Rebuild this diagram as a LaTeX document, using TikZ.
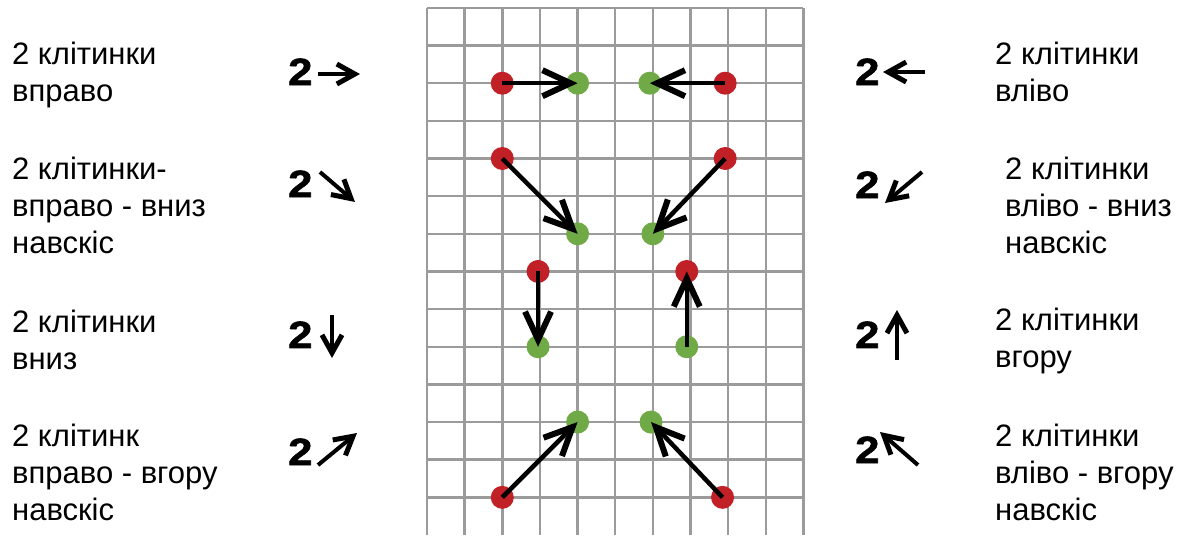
\documentclass[tikz,border=0pt]{standalone}
\usepackage{fontspec}
\setmainfont{Liberation Sans}
\newfontfamily\numfont{Liberation Sans}[BoldFeatures={FakeBold=1.5,FakeStretch=1.15}]
\usetikzlibrary{arrows.meta}

\definecolor{dotred}{RGB}{192,32,38}
\definecolor{dotgreen}{RGB}{112,170,70}
\definecolor{gridgray}{RGB}{155,155,155}

\begin{document}
\begin{tikzpicture}[x=37.65pt, y=37.65pt,
  gridline/.style={gridgray, line width=2.5pt},
  startdot/.style={circle, fill=dotred, minimum size=23pt, inner sep=0pt},
  enddot/.style={circle, fill=dotgreen, minimum size=23pt, inner sep=0pt},
  move/.style={line width=4.5pt, -{Straight Barb[length=28pt,width=26pt,line width=6pt]}},
  hint/.style={line width=4pt, -{Straight Barb[length=18pt,width=20pt,line width=5pt]}},
  desc/.style={anchor=base west, inner sep=0pt, align=left, font=\fontsize{31}{37}\selectfont},
  num/.style={anchor=base west, inner sep=0pt, font=\numfont\bfseries\fontsize{38}{38}\selectfont}]

\useasboundingbox (-11.341,0) rectangle (20.133,14.210);

% grid
\foreach \c in {0,...,10} \draw[gridline] (\c,0) -- (\c,14);
\foreach \r in {1,...,14} \draw[gridline] (0,\r) -- (10,\r);

% dots
\node[startdot] (rRight)     at (2,12)    {};
\node[enddot]   (gRight)     at (4,12)    {};
\node[startdot] (rLeft)      at (7.92,12) {};
\node[enddot]   (gLeft)      at (5.92,12) {};
\node[startdot] (rDownRight) at (2,10)    {};
\node[enddot]   (gDownRight) at (4,8)     {};
\node[startdot] (rDownLeft)  at (7.92,10) {};
\node[enddot]   (gDownLeft)  at (6,8)     {};
\node[startdot] (rDown)      at (2.95,7)  {};
\node[enddot]   (gDown)      at (2.95,5)  {};
\node[startdot] (rUp)        at (6.9,7)   {};
\node[enddot]   (gUp)        at (6.9,5)   {};
\node[startdot] (rUpRight)   at (2,1)     {};
\node[enddot]   (gUpRight)   at (4,3)     {};
\node[startdot] (rUpLeft)    at (7.85,1)  {};
\node[enddot]   (gUpLeft)    at (5.95,3)  {};

\draw[move] (rRight.center)     -- (gRight.center);
\draw[move] (rLeft.center)      -- (gLeft.center);
\draw[move] (rDownRight.center) -- (gDownRight.center);
\draw[move] (rDownLeft.center)  -- (gDownLeft.center);
\draw[move] (rDown.center)      -- (gDown.center);
\draw[move] (gUp.center)        -- (rUp.center);
\draw[move] (rUpRight.center)   -- (gUpRight.center);
\draw[move] (rUpLeft.center)    -- (gUpLeft.center);

% left texts
\node[desc] (tRight)     at (-11.023,11.501) {2 клітинки\\вправо};
\node[desc] (tDownRight) at (-11.023,7.490)  {2 клітинки-\\вправо - вниз\\навскіс};
\node[desc] (tDown)      at (-11.023,4.409)  {2 клітинки\\вниз};
\node[desc] (tUpRight)   at (-11.023,0.398)  {2 клітинк\\вправо - вгору\\навскіс};

% right texts
\node[desc] (tLeft)      at (15.086,11.501)  {2 клітинки\\вліво};
\node[desc] (tDownLeft)  at (15.352,7.490)   {2 клітинки\\вліво - вниз\\навскіс};
\node[desc] (tUp)        at (15.086,4.436)   {2 клітинки\\вгору};
\node[desc] (tUpLeft)    at (15.086,0.398)   {2 клітинки\\вліво - вгору\\навскіс};

% short codes
\node[num] (nRight)     at (-3.692,11.952) {2};
\node[num] (nDownRight) at (-3.692,8.977)  {2};
\node[num] (nDown)      at (-3.692,4.967)  {2};
\node[num] (nUpRight)   at (-3.692,1.859)  {2};
\node[num] (nLeft)      at (11.368,11.952) {2};
\node[num] (nDownLeft)  at (11.368,8.951)  {2};
\node[num] (nUp)        at (11.368,4.967)  {2};
\node[num] (nUpLeft)    at (11.368,1.912)  {2};

\coordinate (aRightA)     at (-2.895,12.244);  \coordinate (aRightB)     at (-1.780,12.244);
\coordinate (aDownRightA) at (-2.842,9.641);   \coordinate (aDownRightB) at (-1.912,8.845);
\coordinate (aDownA)      at (-2.523,5.843);   \coordinate (aDownB)      at (-2.523,4.701);
\coordinate (aUpRightA)   at (-2.895,1.859);   \coordinate (aUpRightB)   at (-1.859,2.709);
\coordinate (aLeftA)      at (13.227,12.297);  \coordinate (aLeftB)      at (12.112,12.297);
\coordinate (aDownLeftA)  at (13.147,9.641);   \coordinate (aDownLeftB)  at (12.165,8.818);
\coordinate (aUpA)        at (12.483,4.648);   \coordinate (aUpB)        at (12.483,5.976);
\coordinate (aUpLeftA)    at (13.041,1.859);   \coordinate (aUpLeftB)    at (12.032,2.736);

\draw[hint] (aRightA)     -- (aRightB);
\draw[hint] (aDownRightA) -- (aDownRightB);
\draw[hint] (aDownA)      -- (aDownB);
\draw[hint] (aUpRightA)   -- (aUpRightB);
\draw[hint] (aLeftA)      -- (aLeftB);
\draw[hint] (aDownLeftA)  -- (aDownLeftB);
\draw[hint] (aUpA)        -- (aUpB);
\draw[hint] (aUpLeftA)    -- (aUpLeftB);
\end{tikzpicture}
\end{document}
